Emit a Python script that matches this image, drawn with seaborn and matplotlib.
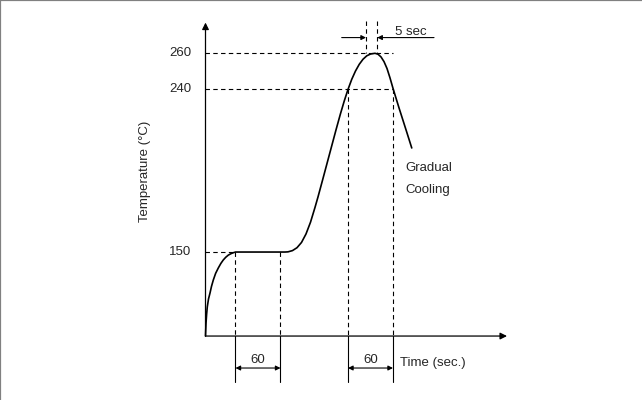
import matplotlib
matplotlib.use("Agg")
import matplotlib.pyplot as plt
import seaborn as sns
import pandas as pd

# reflow profile (time in sec, temperature in C)
time_s = [0, 0.7, 1.5, 2.4, 4, 6, 8, 10.4, 13.5, 17.1, 20.5, 23.7, 27, 30.4, 34, 37, 40,
          70, 106, 110, 116, 122, 128, 134, 140, 146, 150, 156, 162, 168, 174, 180, 185,
          190, 195, 200, 205, 210, 215, 220, 226, 230, 234, 238, 242, 246, 250, 254, 258,
          263, 268, 275]
temp_c = [103.5, 110.7, 115.6, 119.7, 124, 127.3, 131, 134.5, 138.2, 141.2, 143.7, 145.6,
          147.1, 148.3, 149.1, 149.6, 150,
          150, 150, 150.1, 150.8, 152.4, 155.3, 160, 166.5, 174.7, 180.5, 189.7, 199, 208.3,
          217.6, 226.6, 233.6, 240, 245.6, 250.2, 253.9, 256.7, 258.6, 259.6, 260, 259.5,
          258, 255.4, 251.6, 246.4, 240.6, 235.2, 229.8, 223.3, 216.8, 207.6]
ytick_vals = [150, 240, 260]
soak_window = [40, 100]
reflow_window = [190, 250]
peak_window = [214, 229]
base_temp = 103.5

df = pd.DataFrame({'Time': time_s, 'Temp': temp_c})

sns.set_style("white")
plt.rcParams['font.family'] = ['Liberation Sans', 'DejaVu Sans']
fs = 9.5

fig = plt.figure(figsize=(6.42, 4), dpi=100)
ax = fig.add_axes([0, 0, 1, 1])
ax.set_xlim(-274, 582)
ax.set_ylim(68.1, 289.5)

# gray frame on top and left only
for side in ['right', 'bottom']:
    ax.spines[side].set_visible(False)
for side in ['top', 'left']:
    ax.spines[side].set_color('#808080')
    ax.spines[side].set_linewidth(1.6)
ax.set_xticks([])
ax.set_yticks([])

# the profile curve
sns.lineplot(data=df, x='Time', y='Temp', sort=False, color='black', lw=1.2, ax=ax)
ax.set_xlabel('')
ax.set_ylabel('')

# axes with arrow heads
arrow = dict(arrowstyle='-|>', color='black', lw=0.9, mutation_scale=10, shrinkA=0, shrinkB=0)
ax.annotate('', xy=(0, 277), xytext=(0, base_temp), arrowprops=arrow)
ax.annotate('', xy=(402, base_temp), xytext=(0, base_temp), arrowprops=arrow)

dash = dict(color='black', lw=0.8, linestyle=(0, (4, 3)))

# horizontal guide lines
ax.plot([0, soak_window[0]], [150, 150], **dash)
ax.plot([0, reflow_window[1]], [240, 240], **dash)
ax.plot([0, reflow_window[1]], [260, 260], **dash)

# vertical guide lines down to the axis, solid extension below
ext_low = 78
for t in soak_window:
    ax.plot([t, t], [150, base_temp], **dash)
    ax.plot([t, t], [base_temp, ext_low], color='black', lw=0.8)
for t in reflow_window:
    ax.plot([t, t], [240, base_temp], **dash)
    ax.plot([t, t], [base_temp, ext_low], color='black', lw=0.8)

# dimension arrows for the 60 sec windows
dim = dict(arrowstyle='<|-|>', color='black', lw=0.8, mutation_scale=7, shrinkA=0, shrinkB=0)
for win in [soak_window, reflow_window]:
    ax.annotate('', xy=(win[1], 85.8), xytext=(win[0], 85.8), arrowprops=dim)
    ax.text((win[0] + win[1]) / 2, 90, '60', ha='center', va='center', fontsize=fs)

# peak window
for t in peak_window:
    ax.plot([t, t], [278, 260], **dash)
one = dict(arrowstyle='-|>', color='black', lw=0.8, mutation_scale=7, shrinkA=0, shrinkB=0)
ax.annotate('', xy=(peak_window[0], 268.7), xytext=(181.6, 268.7), arrowprops=one)
ax.annotate('', xy=(peak_window[1], 268.7), xytext=(304.7, 268.7), arrowprops=one)
ax.text(252.7, 272, '5 sec', ha='left', va='center', fontsize=fs)

# labels
for v in ytick_vals:
    ax.text(-19.3, v, str(v), ha='right', va='center', fontsize=fs)
ax.text(-80.7, 194.5, 'Temperature (°C)', rotation=90, ha='center', va='center', fontsize=fs)
ax.text(259.3, 88.5, 'Time (sec.)', ha='left', va='center', fontsize=fs)
ax.text(266, 196.4, 'Gradual', ha='left', va='center', fontsize=fs)
ax.text(266, 184.3, 'Cooling', ha='left', va='center', fontsize=fs)

fig.savefig('out.png', dpi=100)
